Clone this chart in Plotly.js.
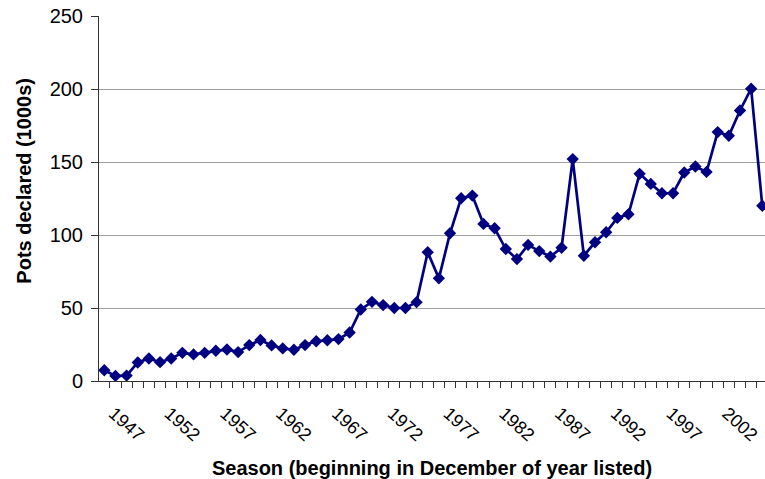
<!DOCTYPE html>
<html>
<head>
<meta charset="utf-8">
<script src="https://cdn.plot.ly/plotly-3.0.1.min.js"></script>
<style>html,body{margin:0;padding:0;background:#fff;}#chart{width:765px;height:479px;}</style>
</head>
<body>
<div id="chart"></div>
<script>
const seasons = [];
for (let y = 1945; y <= 2004; y++) seasons.push(y);
const potsDeclared = [
  7.4, 3.5, 3.7, 12.7, 15.4, 12.9, 15.4, 19.3, 18.2, 19.3,
  20.7, 21.6, 19.8, 24.6, 28.1, 24.4, 22.3, 21.4, 24.6, 27.2,
  27.9, 28.7, 33.2, 49.0, 54.2, 52.0, 50.0, 50.0, 54.0, 88.2,
  70.3, 101.2, 125.2, 127.0, 107.6, 104.6, 90.4, 83.5, 93.2, 89.0,
  85.2, 91.3, 152.0, 85.8, 95.0, 101.9, 111.7, 114.2, 141.9, 135.0,
  128.6, 128.6, 142.8, 146.9, 143.2, 170.5, 168.0, 185.3, 200.2, 120.0
];
const tickYears = [1947, 1952, 1957, 1962, 1967, 1972, 1977, 1982, 1987, 1992, 1997, 2002];
const tickLabels = tickYears.map(String);
const yTicks = [0, 50, 100, 150, 200, 250];
const xTitle = 'Season (beginning in December of year listed)';
const yTitle = 'Pots declared (1000s)';

const trace = {
  x: seasons, y: potsDeclared, type: 'scatter', mode: 'lines+markers',
  line: {color: '#000080', width: 2.7},
  marker: {symbol: 'diamond', size: 9.5, color: '#000080'},
  hoverinfo: 'x+y', cliponaxis: false
};
const layout = {
  width: 765, height: 479,
  margin: {l: 99, r: 0, t: 16, b: 98},
  paper_bgcolor: '#fff', plot_bgcolor: '#fff',
  showlegend: false,
  font: {family: 'Liberation Sans, Arial, sans-serif', color: '#000'},
  xaxis: {
    range: [1944.525, 2004.242], tickmode: 'array', tickvals: tickYears, ticktext: tickLabels,
    tickangle: 42, ticks: '', showgrid: false, zeroline: false,
    showline: true, linecolor: '#333', linewidth: 1,
    tickfont: {size: 18}, ticklabeloverflow: 'allow',
    ticklabelshift: -13, ticklabelstandoff: 14,
    minor: {tick0: 1944.5, dtick: 1, ticks: 'outside', ticklen: 6, tickcolor: '#333', showgrid: false},
    title: {text: '<b>' + xTitle + '</b>', font: {size: 20}, standoff: 22}
  },
  yaxis: {
    range: [0, 250], tickmode: 'array', tickvals: yTicks,
    ticks: 'outside', ticklen: 7, tickcolor: '#333',
    showline: true, linecolor: '#333', linewidth: 1,
    showgrid: true, gridcolor: '#a0a0a0', gridwidth: 1, zeroline: false,
    tickfont: {size: 20}, ticklabelstandoff: 4
  },
  annotations: [{
    text: '<b>' + yTitle + '</b>', textangle: -90,
    xref: 'paper', yref: 'paper', x: -0.112, y: 0.55,
    xanchor: 'center', yanchor: 'middle', showarrow: false,
    font: {size: 20, color: '#000'}
  }]
};
Plotly.newPlot('chart', [trace], layout, {displayModeBar: false, staticPlot: true});
</script>
</body>
</html>
